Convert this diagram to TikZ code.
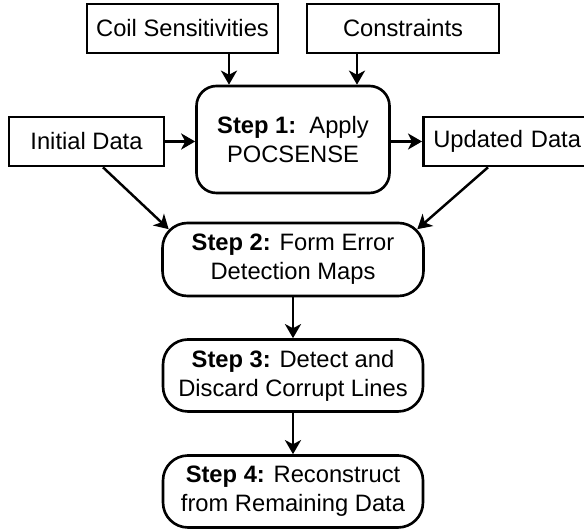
\documentclass[tikz,border=0pt]{standalone}
\usepackage{fontspec}
\setmainfont{Liberation Sans}
\usetikzlibrary{arrows.meta}

\begin{document}
\begin{tikzpicture}[>={Stealth[length=2.8mm,width=3.2mm,inset=0.8mm]},
    every node/.style={font=\fontsize{13.5}{16.5}\selectfont},
    inbox/.style={draw, line width=1.5pt, minimum height=0.98cm, inner sep=0pt},
    stepbox/.style={draw, line width=1.5pt, align=center, inner sep=0pt,
      minimum width=5.2cm, minimum height=1.44cm, rounded corners=0.5cm},
    flow/.style={->, line width=1.4pt}]

  % Kader van de figuur
  \useasboundingbox (0,0) rectangle (11.68,-10.6);

  % Invoer bovenaan
  \node[inbox, minimum width=3.82cm] (coil) at (3.65,-0.57) {Coil Sensitivities};
  \node[inbox, minimum width=3.84cm] (constr) at (8.06,-0.57) {Constraints};

  % Stap 1 met in- en uitvoer
  \node[stepbox, minimum width=3.86cm, minimum height=2.14cm, rounded corners=0.4cm]
    (step1) at (5.86,-2.79) {\textbf{Step 1:}\ \ Apply\\POCSENSE};
  \node[inbox, minimum width=3.1cm] (init) at (1.73,-2.83) {Initial Data};
  \node[inbox, anchor=west, inner xsep=0.2cm, text width=4.5cm, align=left]
    (upd) at (8.44,-2.83) {Updated Data};

  % Stappen 2 t/m 4
  \node[stepbox, minimum width=5.22cm, minimum height=1.46cm] (step2) at (5.86,-5.19)
    {\textbf{Step 2:} Form Error\\Detection Maps};
  \node[stepbox] (step3) at (5.86,-7.51)
    {\textbf{Step 3:} Detect and\\Discard Corrupt Lines};
  \node[stepbox] (step4) at (5.86,-9.83)
    {\textbf{Step 4:} Reconstruct\\from Remaining Data};

  % Pijlen naar stap 1
  \draw[flow] ([xshift=-1.28cm]step1.north |- coil.south) -- ([xshift=-1.28cm]step1.north);
  \draw[flow] ([xshift=1.28cm]step1.north |- constr.south) -- ([xshift=1.28cm]step1.north);
  \draw[flow] (init.east) -- (init.east -| step1.west);
  \draw[flow] (step1.east |- upd.west) -- (upd.west);

  % Pijlen naar stap 2
  \draw[flow] ([xshift=0.33cm]init.south) -- ([shift={(0.15,-0.15)}]step2.north west);
  \draw[flow] ([xshift=1.32cm]upd.south west) -- ([shift={(-0.15,-0.15)}]step2.north east);

  % Verder omlaag
  \draw[flow] (step2) -- (step3);
  \draw[flow] (step3) -- (step4);

\end{tikzpicture}
\end{document}
